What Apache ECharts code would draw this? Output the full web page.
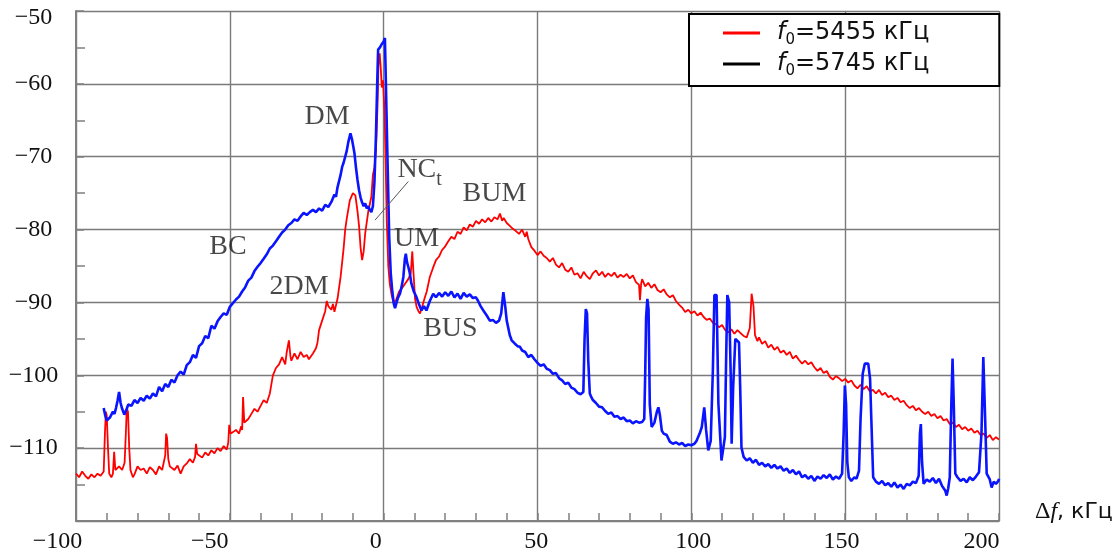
<!DOCTYPE html>
<html><head><meta charset="utf-8">
<script src="https://cdn.jsdelivr.net/npm/echarts@6/dist/echarts.min.js"></script>
<style>html,body{margin:0;padding:0;background:#fff}#c{width:1118px;height:559px}</style>
</head><body><div id="c"></div>
<script>
// ---- data ----
const xTickValues = [-100,-50,0,50,100,150,200];
const yTickValues = [-120,-110,-100,-90,-80,-70,-60,-50];
const seriesNames = ['5455','5745'];
const red5455 = [
[-100,-113.5],[-99,-114],[-98,-113.2],[-97,-113.8],[-96,-114.2],[-95,-113.6],[-94,-114],[-93,-113.5],[-92,-113.8],[-91,-113.2],
[-90.6,-108],[-90.3,-105],[-90,-105.5],[-89.6,-110],[-89.2,-113.5],[-88.5,-114],[-88,-113.5],[-87.6,-110.5],[-87.2,-113],[-86,-112.5],
[-85,-113],[-84.2,-112],[-83.8,-108],[-83.5,-104.5],[-83.1,-105],[-82.7,-110],[-82.3,-113],[-81.5,-114],[-81,-113.6],[-80,-112.5],
[-79,-113],[-78,-112.8],[-77,-113.5],[-76,-112.6],[-75,-113],[-74,-113.6],[-73,-112.5],[-72,-113],[-71.5,-112],[-71,-111],
[-70.7,-108],[-70.4,-108.6],[-70,-111.5],[-69.5,-112.5],[-69,-112.3],[-68,-113],[-67,-112.4],[-66,-113.5],[-65,-112.5],[-64,-112.1],
[-63,-111.5],[-62,-112],[-61.3,-111.2],[-61,-109.4],[-60.6,-110.8],[-60,-110.9],[-59,-111.3],[-58,-110.6],[-57,-111],[-56,-110.3],[-55,-110.7],
[-54,-110],[-53,-110.4],[-52,-109.7],[-51,-110.2],[-50.5,-109.2],[-50.2,-106.8],[-49.8,-108],[-49,-107.8],[-48,-107.5],[-47,-108],[-46.3,-107],
[-46,-107.5],[-45.7,-103],[-45.3,-106.5],[-44,-106],[-43,-105.3],[-42,-104.6],[-41,-105],[-40,-104.2],[-39,-103.4],[-38,-103.8],
[-37,-102.5],[-36.6,-101.5],[-36,-100],[-35,-99],[-34,-98.5],[-33,-97.5],[-32,-98.5],[-31.5,-96.8],[-30.8,-95.2],[-30.3,-97.4],[-30,-98],
[-29,-97],[-28,-97.8],[-27,-96.8],[-26,-97.5],[-25,-97.2],[-24.3,-97.8],[-23,-97],[-22,-96.3],[-21.5,-95.5],[-21,-93.8],
[-20,-92.5],[-19,-91.2],[-18.5,-89.8],[-18,-90.5],[-17,-91],[-16.5,-90.2],[-16,-91.3],[-15,-89.5],[-14,-86.5],[-13,-82.5],
[-12.5,-80],[-12,-78.5],[-11,-76],[-10,-75],[-9.2,-75.3],[-8.5,-77.5],[-8,-79.5],[-7.5,-82.5],[-7,-84.2],[-6.5,-83],
[-6,-80.5],[-5,-77.5],[-4,-75.5],[-3.5,-72.5],[-3,-71.5],[-2.5,-69],[-2,-63],[-1.7,-57.5],[-1.3,-55.8],[-1,-57.5],
[-0.6,-60.5],[-0.2,-59.5],[0.3,-64],[0.7,-72],[1,-78.7],[1.5,-85],[2,-87.5],[2.6,-89],[3.2,-90],[4,-89.7],
[5,-88.5],[6,-88],[7,-87.4],[8,-86.8],[8.8,-86],[9.3,-83],[9.7,-86],[10.2,-89.5],[10.7,-90.6],[11.3,-91.2],
[11.8,-91.5],[12.5,-90.6],[13.4,-89.3],[14,-88.5],[15,-86.5],[16,-85.3],[17,-84.2],[18,-83.7],[19,-82.8],[20,-82.3],
[21,-81.6],[22,-81],[23,-81.3],[24,-80.3],[25,-80.6],[26,-79.7],[27,-80.1],[28,-79.3],[29,-79.6],[30,-78.8],
[31,-79.2],[32,-78.6],[33,-79],[34,-78.4],[35,-78.9],[36,-78.3],[37,-78.6],[37.8,-77.8],[38.5,-78.8],[39,-78.4],
[40,-79.1],[41,-79.5],[42,-79.9],[43,-80.2],[44,-80.6],[45,-80],[46,-81],[46.5,-80.3],[47,-81.3],[48,-82.4],
[49,-82.9],[50,-83.5],[51,-83],[52,-83.6],[53,-83.9],[54,-84.4],[55,-83.9],[56,-84.8],[57,-85.2],[58,-84.6],
[59,-85.5],[60,-85.8],[61,-85.2],[62,-86.2],[63,-86],[64,-86.7],[65,-85.8],[66,-86.4],[67,-86.8],[68,-86],
[69,-85.6],[70,-86.3],[71,-85.8],[72,-86.5],[73,-86],[74,-86.4],[75,-85.9],[76,-86.6],[77,-86.2],[78,-86.5],
[79,-86.1],[80,-86.7],[81,-86.3],[82,-87.2],[83,-87.6],[83.3,-89.7],[83.7,-87.4],[84,-86.8],[85,-87.8],[86,-87.3],
[87,-88],[88,-87.5],[89,-88.3],[90,-88.6],[91,-88.2],[92,-88.9],[93,-89.3],[94,-89],[95,-89.8],[96,-90.3],
[97,-90.7],[98,-91.3],[99,-91],[100,-91.5],[101,-91.2],[102,-91.8],[103,-91.4],[104,-92],[105,-92.4],[106,-92.2],
[107,-92.8],[108,-93],[109,-93.4],[110,-93.1],[111,-93.8],[112,-94.1],[113,-93.7],[114,-94.3],[115,-93.8],[116,-94.2],
[117,-94.6],[118,-94.8],[119,-93.5],[119.6,-88.8],[120.2,-90.5],[120.7,-94.5],[121.5,-95.3],[122,-94.8],[123,-95.7],[124,-95.3],
[125,-96.2],[126,-95.8],[127,-96.5],[128,-96.1],[129,-96.9],[130,-96.6],[131,-97.2],[132,-96.8],[133,-97.7],[134,-97.3],
[135,-97.9],[136,-98.4],[137,-98],[138,-98.5],[139,-98.2],[140,-98.9],[141,-99.4],[142,-99],[143,-99.7],[144,-99.4],
[145,-100.2],[146,-100.6],[147,-100.1],[148,-100.4],[149,-100.8],[150,-100.5],[151,-101],[152,-100.7],[153,-101.4],[154,-101.8],
[155,-101.3],[156,-101.9],[157,-101.5],[158,-102.2],[159,-102],[160,-102.5],[161,-102],[162,-102.7],[163,-102.4],[164,-103],
[165,-102.8],[166,-103.4],[167,-103.1],[168,-103.7],[169,-103.5],[170,-104.1],[171,-104.5],[172,-104.2],[173,-104.8],[174,-104.5],
[175,-105],[176,-105.3],[177,-105],[178,-105.6],[179,-105.3],[180,-105.9],[181,-105.6],[182,-106.2],[183,-106],[184,-106.7],
[185,-106.5],[186,-107.1],[187,-106.8],[188,-107.4],[189,-107.1],[190,-107.6],[191,-107.3],[192,-107.9],[193,-107.6],[194,-108.2],
[195,-108],[196,-108.6],[197,-108.2],[198,-108.9],[199,-108.5],[200,-108.8]
];
const blue5745 = [
[-91,-104.5],[-90.5,-105.5],[-90,-106.2],[-89,-105.8],[-88.5,-106],[-88,-105],[-87.5,-105.3],[-87,-104.5],[-86.5,-103.5],[-86,-102.3],
[-85.5,-103.8],[-85,-104.6],[-84.3,-105.4],[-83.5,-104.6],[-83,-104],[-82,-104.2],[-81,-103.4],[-80,-103.8],[-79,-103.1],[-78,-103.5],
[-77,-102.8],[-76,-103.2],[-75,-102.5],[-74,-102.9],[-73,-101.6],[-72,-102.2],[-71,-101.2],[-70,-101.6],[-69,-100.6],[-68,-101],
[-67,-100],[-66,-99.5],[-65,-99.9],[-64,-98.6],[-63,-98.2],[-62,-97.2],[-61,-97.6],[-60,-96],[-59,-95.6],[-58,-94.6],
[-57,-94.9],[-56,-93.2],[-55,-93.6],[-54,-92.6],[-53,-92],[-52,-91.5],[-51,-91.7],[-50,-90.6],[-49,-90.1],[-48,-89.6],
[-47,-89.2],[-46,-88.5],[-45,-87.9],[-44,-87],[-43,-86.6],[-42,-85.7],[-41,-85.1],[-40,-84.6],[-39,-84],[-38,-83.4],
[-37,-82.6],[-36,-82.2],[-35,-81.6],[-34,-81],[-33,-80.4],[-32,-80],[-31,-79.4],[-30,-79.1],[-29,-78.6],[-28,-78.8],
[-27,-78.2],[-26,-77.7],[-25,-78],[-24,-77.6],[-23,-77.3],[-22,-77.6],[-21,-77.1],[-20,-77.4],[-19,-76.6],[-18,-76.9],
[-17,-76.2],[-16,-75.2],[-15.5,-75.5],[-15,-74.2],[-14,-72.5],[-13.5,-71.4],[-13,-70.8],[-12,-69.2],[-11.5,-68],[-10.8,-66.8],
[-10.3,-67.6],[-9.5,-69.5],[-9,-71.5],[-8.5,-73.2],[-8,-74.6],[-7.5,-75.6],[-7,-76.3],[-6.5,-76.8],[-6,-76.4],[-5.5,-77.1],
[-5,-76.8],[-4.5,-77.3],[-4,-77.6],[-3.5,-76.8],[-3,-73.5],[-2.5,-67],[-2.1,-60],[-1.8,-55.3],[-1.2,-55],[-0.7,-54.6],
[0,-54.2],[0.4,-53.7],[0.7,-59.5],[1.2,-69.5],[1.8,-81],[2.3,-86],[2.8,-88.5],[3.3,-90.2],[3.7,-90.8],[4.2,-90],
[4.7,-89.3],[5.3,-88.8],[5.8,-87.9],[6.4,-86.5],[6.9,-84],[7.2,-83.3],[7.6,-84.5],[8,-85.1],[8.5,-86],[9,-87.4],
[9.8,-88.5],[10.7,-89.3],[11.5,-90.3],[12.3,-91.1],[13.1,-90.5],[13.9,-91.1],[15,-89.8],[16.1,-88.8],[17,-89.3],[18,-88.7],
[19,-89.2],[20,-88.6],[21,-89.1],[22,-88.5],[23,-89.3],[24,-88.8],[25,-89.5],[26,-88.7],[27,-89.2],[28,-88.9],
[29,-89.4],[30,-89.3],[30.7,-89.8],[31.5,-90.5],[32.4,-91.1],[33.5,-91.8],[34.5,-92.5],[35.5,-92.4],[36.5,-92.8],[37.5,-92.5],
[38.2,-91.5],[38.9,-88.6],[39.5,-90.5],[40,-92.5],[41,-94.5],[41.6,-95.2],[42.5,-95.6],[43.5,-96],[44.3,-96.1],[45,-96.6],
[46,-96.8],[47,-97.5],[48,-97.2],[49,-97.8],[50,-98.3],[51,-98.7],[52,-98.5],[53,-99.1],[54,-99.3],[55,-99.8],
[56,-99.7],[57,-100.4],[58,-100.7],[59,-101.2],[60,-101],[61,-101.7],[62,-101.9],[63,-102.4],[64,-102.6],[64.9,-102.3],
[65.3,-95],[65.7,-90.9],[66.1,-91.5],[66.5,-98],[67,-102.5],[67.5,-103],[68,-103.4],[69,-103.8],[70,-104.3],[71,-104.4],
[72,-104.9],[73,-105.3],[74,-105.1],[75,-105.7],[76,-105.6],[77,-106],[78,-105.8],[79,-106.3],[80,-106.2],[81,-106.6],
[82,-106.3],[83,-106.5],[84,-106.4],[84.7,-106],[85,-100],[85.3,-92],[85.7,-89.5],[86.1,-91],[86.5,-104],[87.1,-107.1],
[88,-106.5],[88.8,-105],[89.3,-104.4],[89.8,-105.5],[90.4,-107.6],[91,-108],[92,-108.2],[93,-109.1],[94,-109.4],[95,-109.2],
[96,-109.5],[97,-109.3],[98,-109.7],[99,-109.5],[100,-109.6],[101,-109.4],[101.7,-109],[102.7,-108],[103.4,-107.1],[104.2,-104.4],
[104.8,-107.5],[105.5,-110.3],[106.3,-109],[107,-99.3],[107.5,-89],[108.2,-89],[108.8,-103.9],[109.8,-111.7],[110.9,-108.5],[111.3,-98],
[111.7,-89],[112.3,-90],[112.8,-100],[113.1,-109.4],[113.6,-101.6],[114.3,-95],[114.9,-94.8],[115.5,-95.5],[115.9,-102],[116.3,-109.9],
[117,-111.2],[118,-111.7],[119,-111.4],[120,-112],[121,-111.6],[122,-112.3],[123,-112],[124,-112.5],[125,-112.2],[126,-112.7],
[127,-112.3],[128,-112.8],[129,-112.5],[130,-113.1],[131,-112.8],[132,-113.4],[133,-113],[134,-113.6],[135,-113.2],[136,-114],
[137,-113.7],[138,-114.2],[139,-113.8],[140,-114.5],[141,-113.9],[142,-114.2],[143,-113.7],[144,-114.1],[145,-113.6],[146,-114.3],
[147,-113.9],[148,-114.2],[149,-113.5],[149.5,-108],[149.9,-101.4],[150.3,-104],[150.7,-112],[151.2,-114],[152,-114.5],[153,-114],
[153.7,-114.2],[154.5,-113.1],[155,-106],[155.7,-99.8],[156.4,-98.4],[157.5,-98.4],[158.1,-100.5],[158.5,-106],[159.1,-114],[160,-114.6],
[161,-114.9],[162,-114.5],[163,-115.1],[164,-114.8],[165,-115.3],[166,-114.7],[167,-115.4],[168,-115],[169,-115.6],[170,-114.9],
[171,-115.1],[172,-114.6],[173,-114.8],[173.9,-113.8],[174.3,-108],[174.6,-106.7],[175,-112],[175.5,-114.9],[176.5,-114.3],[177.5,-114.6],
[178.5,-114.1],[179.5,-114.8],[180.5,-114.2],[181.5,-115.2],[182.5,-115.8],[183,-116.5],[183.5,-115.5],[184,-114],[184.5,-104],[184.9,-97.7],
[185.3,-104],[185.8,-113.5],[186.5,-114],[187.5,-114.5],[188.5,-114.2],[189.5,-114.7],[190.5,-114],[191.5,-114.4],[192.5,-113.9],[193.5,-113.3],
[194.3,-108],[194.9,-97.5],[195.5,-106],[196,-113.5],[197,-114.3],[197.6,-115.4],[198.3,-114.6],[199,-114.9],[199.8,-114.5],[200,-114.2]
];
const annoText = ['DM','BC','2DM','BUM','UM','BUS'];
const annoX = [-18.4,-50.6,-27.5,36.0,10.7,21.7];
const annoY = [-64.5,-82.3,-87.8,-75.1,-81.2,-93.6];
const ncPoint = [4.3,-71.8];
const ncLeader = [[-2.8,-78.7],[8,-73.4]];

// ---- styles ----
const serif = 'Liberation Serif';
const sans = 'DejaVu Sans';
const xLabelShift = [-18.5,-20,-8,-1.3,1.8,-3.6,-17.6];
const xRich = {};
xLabelShift.forEach((s,i)=>{
  xRich['x'+i] = {fontFamily: serif, fontSize: 24, color: '#111',
    padding: s < 0 ? [0, -2*s, 0, 0] : [0, 0, 0, 2*s]};
});
const fmtNum = v => (v < 0 ? '\u2212' + Math.abs(v) : String(v));

const chart = echarts.init(document.getElementById('c'), null, {renderer: 'canvas'});
chart.setOption({
  animation: false,
  backgroundColor: '#fff',
  grid: {left: 76, right: 119, top: 11, bottom: 38, outerBoundsMode: 'none'},
  legend: {
    left: 689, top: 14, orient: 'vertical',
    padding: [7, 70, 7, 34], itemGap: 4, itemWidth: 37, itemHeight: 3,
    borderColor: '#000', borderWidth: 2, backgroundColor: '#fff',
    data: [
      {name: seriesNames[0], icon: 'rect', lineStyle: {color: '#ff0000', width: 3}, itemStyle: {color: '#ff0000'}},
      {name: seriesNames[1], icon: 'rect', lineStyle: {color: '#000000', width: 3}, itemStyle: {color: '#000000'}}
    ],
    formatter: n => '{i|f}{s|0}{n|=' + n + ' кГц}',
    textStyle: {
      rich: {
        i: {fontFamily: sans, fontStyle: 'italic', fontSize: 24, lineHeight: 24, color: '#111', padding: [0,0,0,12], verticalAlign: 'top'},
        s: {fontFamily: sans, fontSize: 15, lineHeight: 12, color: '#111', padding: [12,0,0,0], verticalAlign: 'top'},
        n: {fontFamily: sans, fontSize: 24, lineHeight: 24, color: '#111', verticalAlign: 'top'}
      }
    }
  },
  xAxis: {
    type: 'value', min: -100, max: 200, interval: 50,
    axisLine: {show: true, onZero: false, lineStyle: {color: '#808080', width: 2}},
    axisTick: {show: true, inside: true, length: 8, lineStyle: {color: '#808080', width: 1.5}},
    minorTick: {show: true, splitNumber: 5, length: 8, lineStyle: {color: '#808080', width: 1.5}},
    splitLine: {show: true, lineStyle: {color: '#7a7a7a', width: 1.4}},
    axisLabel: {
      margin: 9,
      formatter: v => {
        const i = xTickValues.indexOf(v);
        return i < 0 ? '' : '{x' + i + '|' + fmtNum(v) + '}';
      },
      rich: xRich
    },
    name: '{d|\u0394}{f|f}{t|, кГц}',
    nameLocation: 'end', nameGap: 36,
    nameTextStyle: {
      padding: [0, 0, 18, 0],
      rich: {
        d: {fontFamily: serif, fontSize: 24, color: '#111'},
        f: {fontFamily: serif, fontStyle: 'italic', fontSize: 24, color: '#111'},
        t: {fontFamily: sans, fontSize: 22, color: '#111'}
      }
    }
  },
  yAxis: {
    type: 'value', min: -120, max: -50, interval: 10,
    axisLine: {show: true, onZero: false, lineStyle: {color: '#808080', width: 2}},
    axisTick: {show: true, inside: true, length: 8, lineStyle: {color: '#808080', width: 1.5}},
    minorTick: {show: true, splitNumber: 2, length: 9, lineStyle: {color: '#808080', width: 1.5}},
    splitLine: {show: true, lineStyle: {color: '#7a7a7a', width: 1.4}},
    axisLabel: {
      align: 'center', margin: 42.5,
      formatter: v => {
        if (yTickValues.indexOf(v) < 0 || v === -120) return '';
        return (v === -50 ? '{t|' : '{n|') + fmtNum(v) + '}';
      },
      rich: {
        n: {fontFamily: serif, fontSize: 24, color: '#111'},
        t: {fontFamily: serif, fontSize: 24, color: '#111', padding: [14, 0, 0, 0]}
      }
    }
  },
  series: [
    {name: seriesNames[0], type: 'line', data: red5455, symbol: 'none', showSymbol: false,
     lineStyle: {color: '#ff0000', width: 1.8}, itemStyle: {color: '#ff0000'}, z: 2},
    {name: seriesNames[1], type: 'line', data: blue5745, symbol: 'none', showSymbol: false,
     lineStyle: {color: '#0a14ff', width: 2.6}, itemStyle: {color: '#0a14ff'}, z: 3},
    {name: 'labels', type: 'scatter', silent: true, z: 5,
     data: annoX.map((x, i) => [x, annoY[i], annoText[i]]),
     symbolSize: 1, itemStyle: {color: 'rgba(0,0,0,0)'},
     label: {show: true, position: 'inside', formatter: p => p.data[2],
       fontFamily: serif, fontSize: 28, color: '#1a1a1a'}},
    {name: 'nc', type: 'scatter', silent: true, z: 5,
     data: [ncPoint], symbolSize: 1, itemStyle: {color: 'rgba(0,0,0,0)'},
     label: {show: true, position: 'right', distance: 0, formatter: '{a|NC}{b|t}',
       rich: {
         a: {fontFamily: serif, fontSize: 28, lineHeight: 28, color: '#1a1a1a', verticalAlign: 'top'},
         b: {fontFamily: serif, fontSize: 20, lineHeight: 16, color: '#1a1a1a', padding: [14,0,0,0], verticalAlign: 'top'}
       }},
     markLine: {silent: true, symbol: ['none', 'none'], animation: false,
       lineStyle: {color: '#555', width: 1, type: 'solid'}, label: {show: false},
       data: [[{coord: ncLeader[0]}, {coord: ncLeader[1]}]]}}
  ]
});
</script>
</body></html>
